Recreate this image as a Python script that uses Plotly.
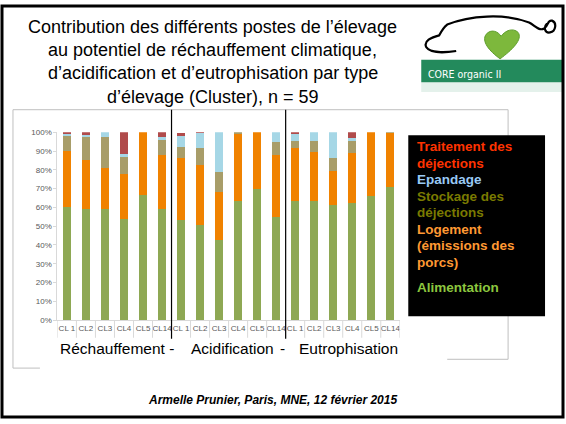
import plotly.graph_objects as go

W, H = 566, 424

clusters = ["CL 1", "CL2", "CL3", "CL4", "CL5", "CL14"]
groups = ["Réchauffement", "Acidification", "Eutrophisation"]
tick_labels = clusters * 3

alimentation = [60.0, 59.1, 59.0, 53.9, 66.7, 59.1, 53.5, 50.4, 42.6, 63.3, 69.8, 54.7, 63.2, 63.5, 61.2, 62.3, 66.3, 70.7]
logement     = [29.8, 26.3, 21.7, 23.6, 33.3, 28.6, 32.8, 32.1, 25.8, 35.5, 30.2, 33.4, 28.6, 26.0, 18.1, 26.6, 33.7, 28.8]
stockage     = [8.6, 12.0, 17.0, 9.7, 0.0, 8.4, 5.8, 9.1, 10.5, 1.2, 0.0, 6.5, 3.5, 5.8, 7.2, 6.4, 0.0, 0.5]
epandage     = [0.6, 1.2, 2.3, 1.0, 0.0, 1.3, 5.8, 8.0, 21.1, 0.0, 0.0, 5.4, 3.8, 4.7, 13.5, 1.7, 0.0, 0.0]
traitement   = [1.0, 1.4, 0.0, 11.8, 0.0, 2.6, 1.6, 0.4, 0.0, 0.0, 0.0, 0.0, 0.9, 0.0, 0.0, 3.0, 0.0, 0.0]

y_ticks = [0, 10, 20, 30, 40, 50, 60, 70, 80, 90, 100]
y_tick_labels = [f"{v}%" for v in y_ticks]

series = [
    ("Alimentation", alimentation, "#8EA854"),
    ("Logement (émissions des porcs)", logement, "#F08200"),
    ("Stockage des déjections", stockage, "#A89D69"),
    ("Epandage", epandage, "#A6D7E6"),
    ("Traitement des déjections", traitement, "#B04B4B"),
]

legend_lines = [
    ("Traitement des", "#FF3300", 146),
    ("déjections", "#FF3300", 163),
    ("Epandage", "#99C9F5", 179.5),
    ("Stockage des", "#7A7A00", 196.5),
    ("déjections", "#7A7A00", 213),
    ("Logement", "#FF9933", 230),
    ("(émissions des", "#FF9933", 247),
    ("porcs)", "#FF9933", 264.5),
    ("Alimentation", "#8CC63F", 290),
]

title_lines = [
    "Contribution des différents postes de l’élevage",
    "au potentiel de réchauffement climatique,",
    "d’acidification et d’eutrophisation par type",
    "d’élevage (Cluster), n = 59",
]


def px(x):
    return x / W


def py(y):
    return 1 - y / H


xs = list(range(len(tick_labels)))

fig = go.Figure()
for name, vals, col in series:
    fig.add_trace(go.Bar(x=xs, y=vals, name=name, marker=dict(color=col, line=dict(width=0)),
                         width=0.42))

FONT = "Liberation Sans, Arial, sans-serif"

fig.update_layout(
    width=W, height=H, margin=dict(l=0, r=0, t=0, b=0),
    paper_bgcolor="white", plot_bgcolor="white",
    barmode="stack", showlegend=False,
    font=dict(family=FONT),
    xaxis=dict(domain=[px(57.5), px(400.5)], range=[-0.5, 17.5],
               tickvals=xs, ticktext=tick_labels, tickangle=0,
               tickfont=dict(size=8, color="#595959"),
               showgrid=False, zeroline=False, showline=True, linecolor="#D9D9D9", linewidth=1,
               ticks="", fixedrange=True),
    yaxis=dict(domain=[py(323), py(131)], range=[0, 100], tickvals=y_ticks, ticktext=y_tick_labels,
               tickfont=dict(size=8, color="#595959"), showgrid=False, zeroline=False,
               showline=True, linecolor="#D9D9D9", linewidth=1, ticks="outside", ticklen=3,
               tickcolor="#D9D9D9", fixedrange=True),
)

shapes = []
gray = "#BFBFBF"
for (x0, y0, x1, y1) in [(13, 108, 509, 108), (13, 108, 13, 372), (13, 372, 40, 372),
                         (509, 108, 509, 363), (448, 363, 509, 363)]:
    shapes.append(dict(type="line", xref="paper", yref="paper", x0=px(x0), y0=py(y0),
                       x1=px(x1), y1=py(y1), line=dict(color=gray, width=1)))
for k in range(len(tick_labels) + 1):
    shapes.append(dict(type="line", xref="x", yref="paper", x0=k - 0.5, x1=k - 0.5,
                       y0=py(323), y1=py(341), line=dict(color="#D9D9D9", width=1)))
for b in [5.5, 11.5]:
    shapes.append(dict(type="line", xref="x", yref="paper", x0=b, x1=b, y0=py(108), y1=py(342),
                       line=dict(color="black", width=1.2)))
shapes.append(dict(type="rect", xref="paper", yref="paper", x0=px(409), x1=px(546),
                   y0=py(319), y1=py(134), fillcolor="black", line=dict(width=0)))
shapes.append(dict(type="rect", xref="paper", yref="paper", x0=px(422), x1=px(563),
                   y0=py(80), y1=py(57), fillcolor="#238A5C", line=dict(width=0)))
shapes.append(dict(type="rect", xref="paper", yref="paper", x0=px(422), x1=px(563),
                   y0=py(90), y1=py(80), fillcolor="rgba(35,138,92,0.12)", line=dict(width=0)))


def to_path(d):
    out = []
    for tok in d:
        if isinstance(tok, str):
            out.append(tok)
        else:
            out.append(f"{px(tok[0]):.5f},{py(tok[1]):.5f}")
    return " ".join(out)


pig = ["M", (457, 48), "C", (445, 50), (431, 50), (427, 44), "C", (424, 38), (432, 34), (440, 32),
       "C", (442, 28), (444, 24), (448, 21), "C", (470, 12), (505, 9), (530, 19),
       "C", (536, 22), (540, 28), (545, 25), "C", (550, 22), (548, 16), (553, 17),
       "C", (558, 19), (557, 28), (551, 29), "C", (546, 30), (544, 24), (548, 20)]
shapes.append(dict(type="path", xref="paper", yref="paper", path=to_path(pig),
                   line=dict(color="black", width=2.2)))
heart = ["M", (501, 56), "C", (490, 48), (482, 38), (487, 31), "C", (492, 25), (499, 28), (502, 33),
         "C", (506, 27), (514, 24), (519, 29), "C", (524, 36), (513, 47), (501, 56), "Z"]
shapes.append(dict(type="path", xref="paper", yref="paper", path=to_path(heart),
                   fillcolor="#7DB83C", line=dict(color="#5E9E2C", width=1)))
shapes.append(dict(type="rect", xref="paper", yref="paper", x0=px(2), x1=px(564),
                   y0=py(422), y1=py(2), line=dict(color="black", width=3)))
fig.update_layout(shapes=shapes)

ann = []
for i, t in enumerate(title_lines):
    ann.append(dict(text=t, x=px(213), y=py(23 + 24 * i), xref="paper", yref="paper",
                    xanchor="center", yanchor="middle", showarrow=False,
                    font=dict(size=18, color="black", family=FONT)))
for t, c, y in legend_lines:
    ann.append(dict(text=f"<b>{t}</b>", x=px(416), y=py(y), xref="paper", yref="paper",
                    xanchor="left", yanchor="middle", showarrow=False,
                    font=dict(size=13.5, color=c, family=FONT)))
group_text = [(groups[0] + " -", 117.5), (groups[1], 232.5), ("-", 283), (groups[2], 349.5)]
for t, x in group_text:
    ann.append(dict(text=t, x=px(x), y=py(352), xref="paper", yref="paper", xanchor="center",
                    yanchor="middle", showarrow=False, font=dict(size=15.5, color="black", family=FONT)))
ann.append(dict(text="<b><i>Armelle Prunier, Paris, MNE, 12 février 2015</i></b>", x=px(273), y=py(405),
                xref="paper", yref="paper", xanchor="center", yanchor="middle", showarrow=False,
                font=dict(size=12, color="black", family=FONT)))
ann.append(dict(text="CORE organic II", x=px(427), y=py(72), xref="paper", yref="paper",
                xanchor="left", yanchor="middle", showarrow=False,
                font=dict(size=10.5, color="white", family="DejaVu Sans Condensed, Liberation Sans Narrow, sans-serif")))
fig.update_layout(annotations=ann)

fig.write_html("out.html", config={"displayModeBar": False},
               post_script="document.body.style.margin='0';document.body.style.overflow='hidden';")
